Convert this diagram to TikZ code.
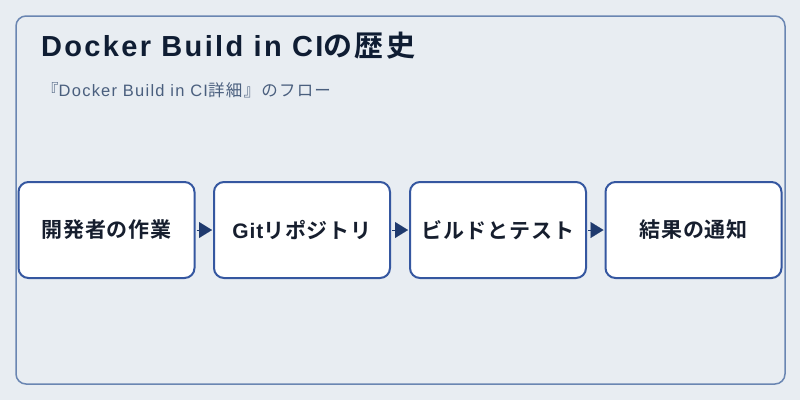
\documentclass[tikz,border=0pt]{standalone}
\usepackage{fontspec}
\setmainfont{Liberation Sans}
\newfontfamily\latt{Liberation Sans}[LetterSpace=8]
\newfontfamily\latf{Liberation Sans}[LetterSpace=4]
\newfontfamily\latsub{Liberation Sans}[LetterSpace=7.5]
\newfontfamily\cjkt{Noto Sans CJK JP}[BoldFont={Noto Sans CJK JP Bold},LetterSpace=8]
\newfontfamily\cjkf{Noto Sans CJK JP}[BoldFont={Noto Sans CJK JP Bold},LetterSpace=4]
\newfontfamily\cjksub{Noto Sans CJK JP}[LetterSpace=7.5]
\usetikzlibrary{arrows.meta}
\definecolor{bgc}{HTML}{E8EDF2}
\definecolor{framec}{HTML}{6A86B2}
\definecolor{boxc}{HTML}{3557A0}
\definecolor{arrc}{HTML}{1F3A6E}
\definecolor{titlec}{HTML}{0F1D33}
\definecolor{subc}{HTML}{4A5F7E}
\definecolor{textc}{HTML}{161E2E}
\tikzset{
  stepbox/.style={draw=boxc, line width=2pt, fill=white, rounded corners=10pt,
    minimum width=176pt, minimum height=96pt, inner sep=0pt,
    font=\bfseries\fontsize{21}{25}\selectfont, text=textc},
  flow/.style={draw=arrc, line width=0.1pt, -{Triangle[length=13pt,width=16pt,fill=arrc]}}
}
\begin{document}
\begin{tikzpicture}[x=1pt,y=-1pt]
\fill[bgc] (0,0) rectangle (800,400);
\useasboundingbox (0,0) rectangle (800,400);
\draw[framec, line width=1.5pt, rounded corners=10pt] (16,16) rectangle (785,384);
\node[anchor=base west, inner sep=0pt, text=titlec, font=\bfseries\fontsize{29}{33}\selectfont] (title) at (41,56) {{\latt Docker Build in CI}{\cjkt の歴史}};
\node[anchor=base west, inner sep=0pt, text=subc, font=\fontsize{16.5}{20}\selectfont] (sub) at (42,96) {{\cjksub 『}{\latsub Docker Build in CI}{\cjksub 詳細』のフロー}};
\node[stepbox] (s1) at (106.5,230) {\cjkf 開発者の作業};
\node[stepbox] (s2) at (302,230) {{\latf Git}{\cjkf リポジトリ}};
\node[stepbox] (s3) at (498,230) {\cjkf ビルドとテスト};
\node[stepbox] (s4) at (693.5,230) {\cjkf 結果の通知};
\draw[flow] ([xshift=1pt]s1.east) -- ([xshift=-1pt]s2.west);
\draw[flow] ([xshift=1pt]s2.east) -- ([xshift=-1pt]s3.west);
\draw[flow] ([xshift=1pt]s3.east) -- ([xshift=-1pt]s4.west);
\end{tikzpicture}
\end{document}
